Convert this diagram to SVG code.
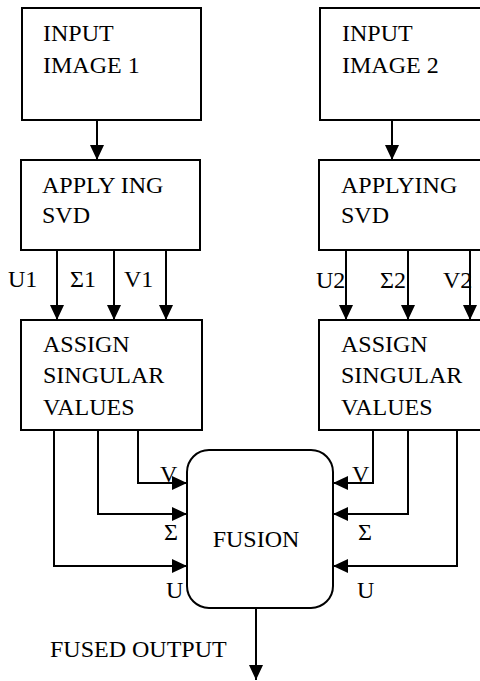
<svg xmlns="http://www.w3.org/2000/svg" width="480" height="681" viewBox="0 0 480 681">
  <style>
    .box { fill: #ffffff; stroke: #000000; stroke-width: 2; }
    .lbl { font-family: 'Liberation Serif', 'DejaVu Serif', serif; font-size: 24px; fill: #000000; }
    .wire { fill: none; stroke: #000000; stroke-width: 2; }
  </style>
  <defs>
    <marker id="arrow" markerUnits="userSpaceOnUse" markerWidth="16" markerHeight="16" viewBox="0 0 16 16" refX="15" refY="8" orient="auto">
      <path d="M0,1 L15,8 L0,15 Z" fill="#000000"/>
    </marker>
  </defs>

  <rect width="480" height="681" fill="#ffffff"/>

  <!-- connectors -->
  <g id="connectors" class="wire" marker-end="url(#arrow)">
    <!-- inputs into SVD -->
    <line x1="97" y1="120" x2="97" y2="160"/>
    <line x1="392" y1="120" x2="392" y2="160"/>
    <!-- SVD outputs, left -->
    <line x1="57" y1="250" x2="57" y2="320"/>
    <line x1="114" y1="250" x2="114" y2="320"/>
    <line x1="166" y1="250" x2="166" y2="320"/>
    <!-- SVD outputs, right -->
    <line x1="346" y1="250" x2="346" y2="320"/>
    <line x1="408" y1="250" x2="408" y2="320"/>
    <line x1="470" y1="250" x2="470" y2="320"/>
    <!-- into fusion, left -->
    <polyline points="138,430 138,483 187,483"/>
    <polyline points="98,430 98,514 187,514"/>
    <polyline points="54,430 54,566 187,566"/>
    <!-- into fusion, right -->
    <polyline points="373,430 373,483 333,483"/>
    <polyline points="408,430 408,514 333,514"/>
    <polyline points="457,430 457,566 333,566"/>
    <!-- fused output -->
    <line x1="256" y1="608" x2="256" y2="680"/>
  </g>

  <g font-family="Liberation Serif, DejaVu Serif, serif">
  <g id="input1">
    <rect class="box" x="22" y="8" width="179" height="112"/>
    <text class="lbl" x="43" y="41">INPUT</text>
    <text class="lbl" x="43" y="73">IMAGE 1</text>
  </g>

  <g id="input2">
    <rect class="box" x="320" y="8" width="170" height="112"/>
    <text class="lbl" x="342" y="41">INPUT</text>
    <text class="lbl" x="342" y="73">IMAGE 2</text>
  </g>

  <g id="svd1">
    <rect class="box" x="21" y="160" width="179" height="90"/>
    <text class="lbl" x="42" y="193">APPLY ING</text>
    <text class="lbl" x="42" y="223">SVD</text>
  </g>

  <g id="svd2">
    <rect class="box" x="319" y="160" width="171" height="90"/>
    <text class="lbl" x="341" y="193">APPLYING</text>
    <text class="lbl" x="341" y="223">SVD</text>
  </g>

  <g id="assign1">
    <rect class="box" x="21" y="320" width="181" height="110"/>
    <text class="lbl" x="43" y="352">ASSIGN</text>
    <text class="lbl" x="43" y="383">SINGULAR</text>
    <text class="lbl" x="43" y="415">VALUES</text>
  </g>

  <g id="assign2">
    <rect class="box" x="319" y="320" width="171" height="110"/>
    <text class="lbl" x="341" y="352">ASSIGN</text>
    <text class="lbl" x="341" y="383">SINGULAR</text>
    <text class="lbl" x="341" y="415">VALUES</text>
  </g>

  <g id="fusion">
    <rect class="box" x="187" y="450" width="146" height="158" rx="22" ry="22"/>
    <text class="lbl" x="256" y="547" text-anchor="middle">FUSION</text>
  </g>

  <!-- component labels -->
  <g id="labels">
    <text class="lbl" x="8" y="287">U1</text>
    <text class="lbl" x="70" y="287">Σ1</text>
    <text class="lbl" x="124" y="287">V1</text>
    <text class="lbl" x="316" y="288">U2</text>
    <text class="lbl" x="380" y="288">Σ2</text>
    <text class="lbl" x="443" y="288">V2</text>
    <text class="lbl" x="160" y="482">V</text>
    <text class="lbl" x="164" y="540">Σ</text>
    <text class="lbl" x="166" y="598">U</text>
    <text class="lbl" x="352" y="482">V</text>
    <text class="lbl" x="358" y="540">Σ</text>
    <text class="lbl" x="357" y="598">U</text>
    <text class="lbl" x="50" y="657">FUSED OUTPUT</text>
  </g>
  </g>
</svg>
